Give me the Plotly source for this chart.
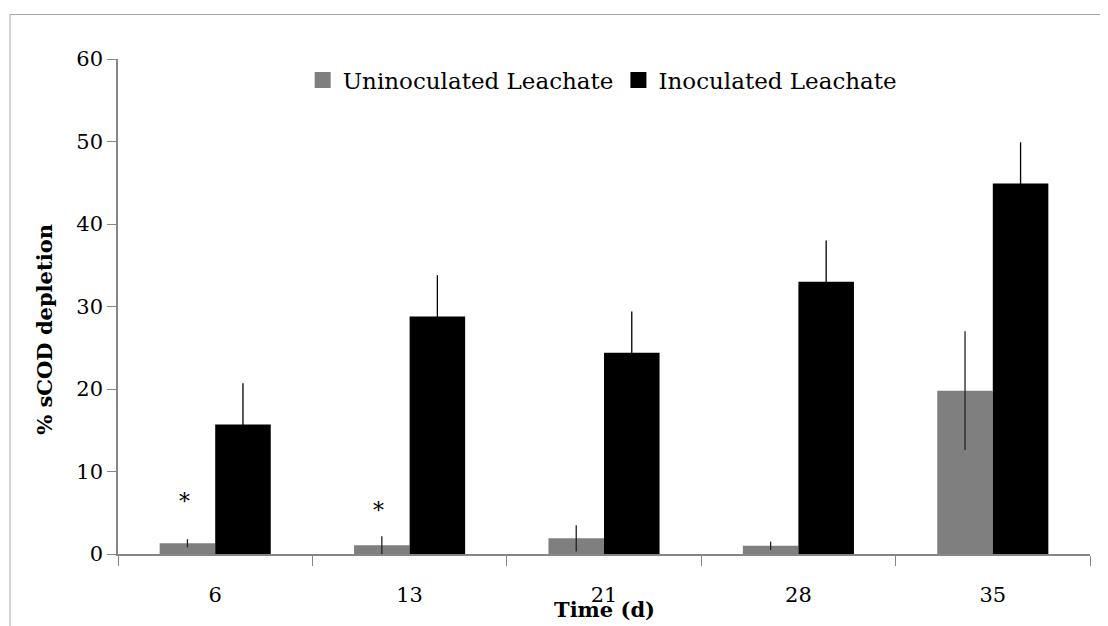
import plotly.graph_objects as go

# ---- data ----
categories = ["6", "13", "21", "28", "35"]
uninoculated = [1.3, 1.05, 1.9, 1.0, 19.8]
uninoculated_err = [0.5, 1.1, 1.6, 0.5, 7.2]
inoculated = [15.7, 28.8, 24.4, 33.0, 44.9]
inoculated_err = [5.0, 5.0, 5.0, 5.0, 5.0]
star_categories = ["6", "13"]
star_values = [6.4, 5.3]
y_ticks = [0, 10, 20, 30, 40, 50, 60]

FONT = "DejaVu Serif"
GRAY = "#7f7f7f"
AXIS = "#868686"

fig = go.Figure()
fig.add_trace(go.Bar(
    x=categories, y=uninoculated, name="Uninoculated Leachate",
    marker=dict(color=GRAY, line=dict(width=0)),
    error_y=dict(type="data", array=uninoculated_err, visible=True,
                 color="#222222", thickness=1.3, width=0),
    showlegend=False,
))
fig.add_trace(go.Bar(
    x=categories, y=inoculated, name="Inoculated Leachate",
    marker=dict(color="#000000", line=dict(width=0)),
    error_y=dict(type="data", array=inoculated_err, visible=True,
                 color="#000000", thickness=1.3, width=0),
    showlegend=False,
))
# legend entries with square swatches
fig.add_trace(go.Scatter(x=[None], y=[None], mode="markers", name="Uninoculated Leachate",
                         marker=dict(symbol="square", size=16, color=GRAY)))
fig.add_trace(go.Scatter(x=[None], y=[None], mode="markers", name="Inoculated Leachate",
                         marker=dict(symbol="square", size=16, color="#000000")))

for c, v in zip(star_categories, star_values):
    fig.add_annotation(x=categories.index(c), y=v, xref="x", yref="y", text="*", showarrow=False,
                       xshift=-31, font=dict(family=FONT, size=22, color="#000000"))

fig.add_annotation(x=(45 - 118) / 972, y=(554.5 - 330) / 495.5, xref="paper", yref="paper",
                   text="<b>% sCOD depletion</b>",
                   textangle=-90, showarrow=False, xanchor="center", yanchor="middle",
                   font=dict(family=FONT, size=21, color="#000000"))
fig.add_annotation(x=0.5, y=(554.5 - 610) / 495.5, xref="paper", yref="paper", text="<b>Time (d)</b>",
                   showarrow=False, xanchor="center", yanchor="middle",
                   font=dict(family=FONT, size=21, color="#000000"))

# outer frame
fig.add_shape(type="rect", xref="paper", yref="paper",
              x0=(10 - 118) / 972, x1=1.2, y0=-0.4, y1=(554.5 - 14.5) / 495.5,
              line=dict(color="#a6a6a6", width=1), fillcolor="rgba(0,0,0,0)", layer="below")

# the page body adds an 8px offset, so the figure is 8px smaller
fig.update_layout(
    width=1100, height=618,
    margin=dict(l=110, r=18, t=51, b=71.5, pad=0),
    paper_bgcolor="white", plot_bgcolor="white",
    barmode="group", bargap=1.5 / 3.5, bargroupgap=0,
    font=dict(family=FONT, size=21, color="#000000"),
    legend=dict(orientation="h", x=0.19, y=(554.5 - 80) / 495.5, xanchor="left", yanchor="middle",
                font=dict(family=FONT, size=23, color="#000000"), bgcolor="rgba(0,0,0,0)",
                itemwidth=30, tracegroupgap=0),
    xaxis=dict(type="category", tickson="boundaries", ticks="outside", ticklen=10,
               range=[-0.5, 4.5],
               tickcolor=AXIS, tickwidth=1.3, showline=True, linecolor=AXIS, linewidth=1.5,
               showgrid=False, zeroline=False, ticklabelstandoff=21,
               tickfont=dict(family=FONT, size=21, color="#000000")),
    yaxis=dict(range=[0, 60], tickvals=y_ticks, ticks="outside", ticklen=9,
               tickcolor=AXIS, tickwidth=1.3, showline=True, linecolor=AXIS, linewidth=1.5,
               showgrid=False, zeroline=False, ticklabelstandoff=0,
               tickfont=dict(family=FONT, size=21, color="#000000")),
)

fig.write_html("out.html")
